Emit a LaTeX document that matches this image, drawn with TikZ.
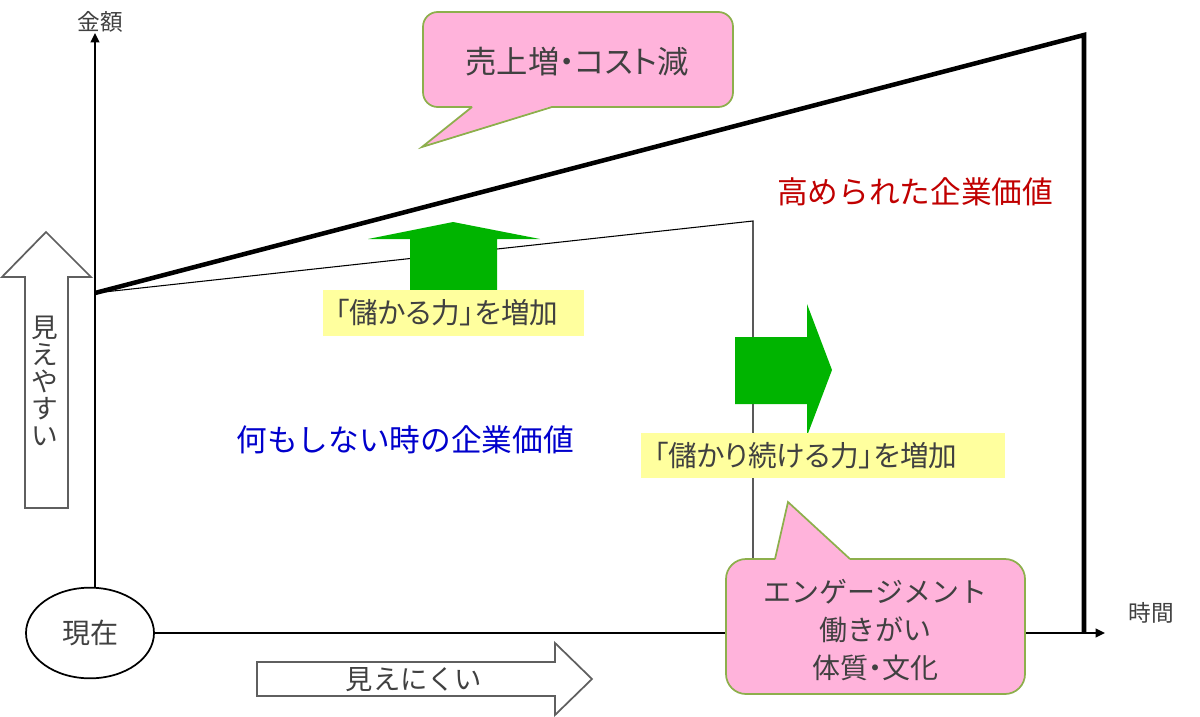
\documentclass[tikz,border=0pt]{standalone}
\usepackage{fontspec}
\setmainfont{Noto Sans CJK JP}
\newfontfamily\pfont[RawFeature=+palt]{Noto Sans CJK JP}
\usetikzlibrary{arrows.meta,shapes.geometric}
\definecolor{txt}{HTML}{404040}
\definecolor{pinkfill}{HTML}{FFB3DB}
\definecolor{callborder}{HTML}{8DAF4C}
\definecolor{grn}{HTML}{00B400}
\definecolor{yel}{HTML}{FFFF9E}
\definecolor{darkred}{HTML}{C00000}
\definecolor{blu}{HTML}{0000CC}
\definecolor{outl}{HTML}{5F5F5F}
\tikzset{
  lbl/.style={text=txt, inner sep=0pt},
  axisline/.style={line width=1.5pt, -{Triangle[length=7pt,width=6.5pt]}},
  thinline/.style={line width=0.8pt},
  thickline/.style={line width=3.4pt, line join=miter},
  nowshape/.style={ellipse, draw, line width=1.3pt, minimum width=96pt, minimum height=68pt, inner sep=0pt, text=txt, font=\fontsize{21pt}{25pt}\selectfont},
  ybox/.style={fill=yel, inner sep=0pt, text=txt, font=\pfont\fontsize{21.5pt}{25pt}\selectfont},
  outarrow/.style={draw=outl, fill=white, line width=1.3pt},
  greenarrow/.style={fill=grn},
  callfill/.style={fill=pinkfill},
  callline/.style={draw=callborder, line width=1.3pt},
}
\begin{document}
\begin{tikzpicture}[x=0.75pt,y=-0.75pt]
\useasboundingbox (0,0) rectangle (1200,717);

% axes
\node[nowshape] (now) at (90,633) {現在};
\coordinate (ytop) at (95,33);
\coordinate (xend) at (1105,633);
\coordinate (start) at (95,293);
\coordinate (thinend) at (753,221);
\coordinate (thinfoot) at (753,633);
\coordinate (thickend) at (1084,35);
\coordinate (thickfoot) at (1084,633);
\draw[axisline] (now.north -| ytop) -- (ytop);
\draw[axisline] (now.east) -- (xend);
\node[lbl, font=\fontsize{17pt}{20pt}\selectfont] (amount) at (100,22) {金額};
\node[lbl, font=\fontsize{17pt}{20pt}\selectfont] (time) at (1151,613) {時間};

% value lines
\draw[thinline] (start) -- (thinend) -- (thinfoot);
\draw[thickline] (start) -- (thickend) -- (thickfoot);

% texts
\node[inner sep=0pt, text=darkred, font=\fontsize{23pt}{27pt}\selectfont] (raised) at (915,192) {高められた企業価値};
\node[inner sep=0pt, text=blu, font=\fontsize{23pt}{27pt}\selectfont] (nothing) at (405,440) {何もしない時の企業価値};

% green arrows
\fill[greenarrow] (410,290) -- (410,239) -- (368,239) -- (453,222) -- (540,239) -- (497,239) -- (497,290) -- cycle;
\fill[greenarrow] (735,337) -- (807,337) -- (807,304) -- (832,370) -- (807,436) -- (807,404) -- (735,404) -- cycle;

% yellow labels
\node[ybox, minimum width=195.75pt, minimum height=34.5pt] (earn) at (453.5,313) {「儲かる力」を増加\kern 10pt};
\node[ybox, minimum width=273pt, minimum height=33.75pt] (keep) at (823,455.5) {「儲かり続ける力」を増加\kern 26pt};

% outline arrows
\filldraw[outarrow] (25,508) -- (25,277) -- (2,277) -- (46,232) -- (91,277) -- (68,277) -- (68,508) -- cycle;
\node[lbl, align=center, font=\fontsize{20pt}{20.3pt}\selectfont] (visible) at (45,381) {見\\え\\や\\す\\い};
\filldraw[outarrow] (257,662) -- (555,662) -- (555,643) -- (592,679) -- (555,715) -- (555,696) -- (257,696) -- cycle;
\node[lbl, font=\fontsize{20.5pt}{24pt}\selectfont] (hidden) at (414,680) {見えにくい};

% top callout
\fill[callfill, rounded corners=11pt] (423,12) rectangle (733,107);
\fill[callfill] (472,106) -- (422,147) -- (552,106) -- cycle;
\draw[callline, rounded corners=11pt] (552,107) -- (733,107) -- (733,12) -- (423,12) -- (423,107) -- (472,107);
\draw[callline] (472,107) -- (422,147) -- (552,107);
\node[lbl, font=\pfont\fontsize{23.5pt}{27pt}\selectfont] (sales) at (577,62) {売上増・コスト減};

% bottom callout
\fill[callfill, rounded corners=15pt] (726,559) rectangle (1025,694);
\fill[callfill] (775,560) -- (788,502) -- (850,560) -- cycle;
\draw[callline, rounded corners=15pt] (850,559) -- (1025,559) -- (1025,694) -- (726,694) -- (726,559) -- (775,559);
\draw[callline] (775,559) -- (788,502) -- (850,559);
\node[lbl, align=center, font=\fontsize{21pt}{28.5pt}\selectfont] (engage) at (875.5,630) {エンゲージメント\\働きがい\\{\pfont 体質・文化}};
\end{tikzpicture}
\end{document}
